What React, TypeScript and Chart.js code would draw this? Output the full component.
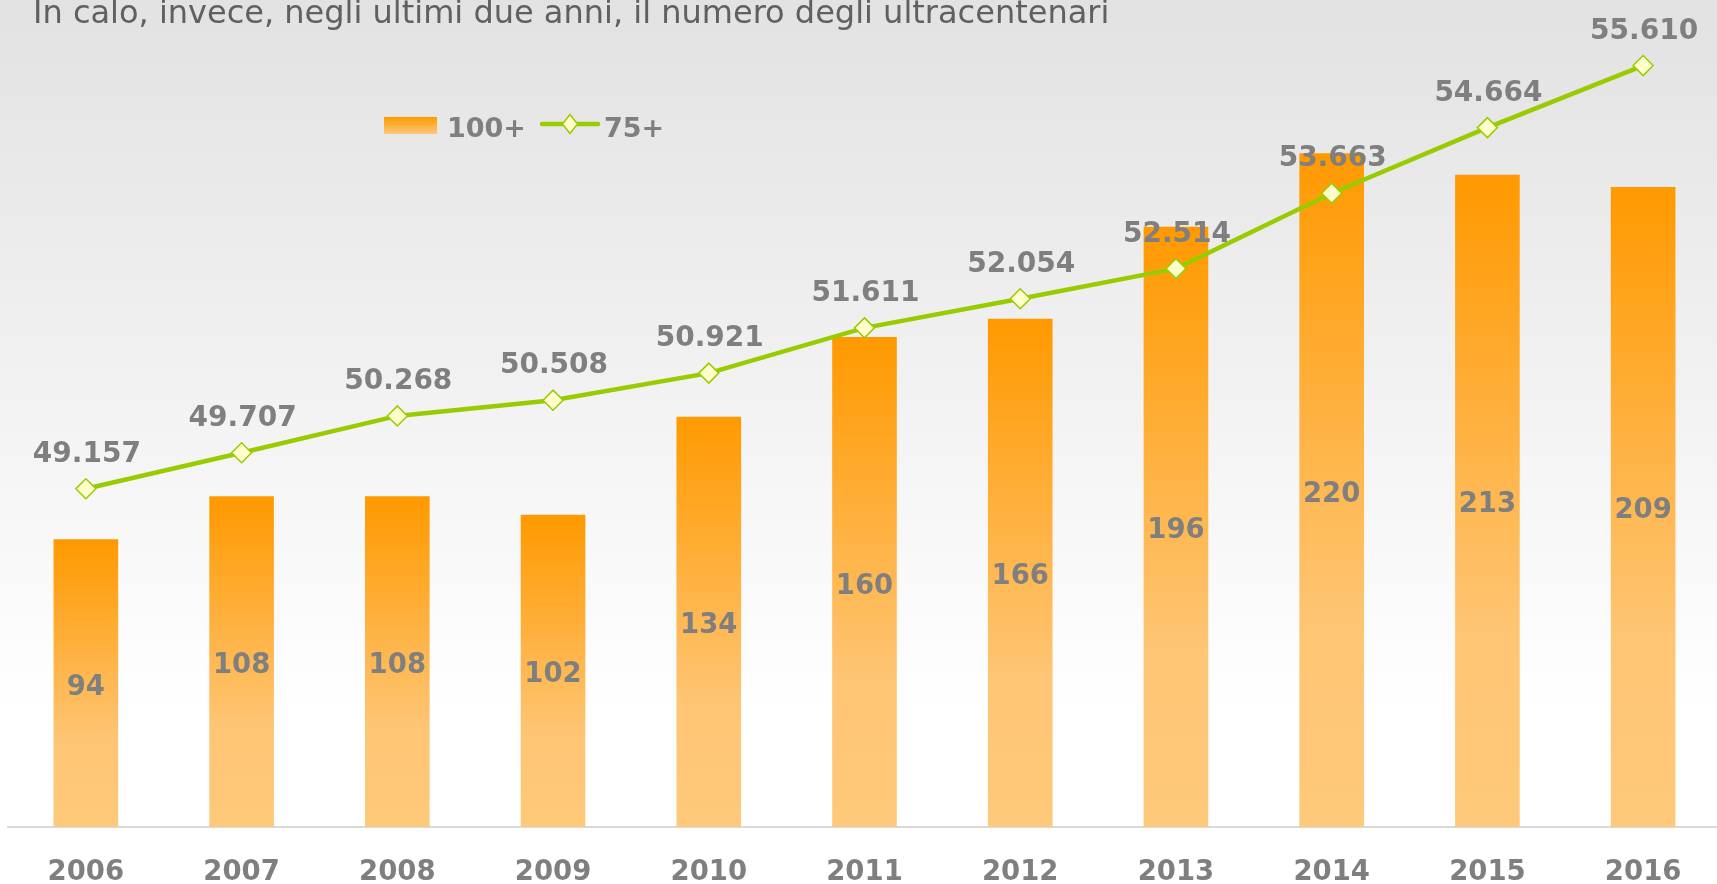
import React, { useEffect, useRef } from "react";
import { Chart, registerables } from "chart.js";

Chart.register(...registerables);

const TITLE = "In calo, invece, negli ultimi due anni, il numero degli ultracentenari";
const YEARS = ["2006", "2007", "2008", "2009", "2010", "2011", "2012", "2013", "2014", "2015", "2016"];
const SERIES_NAMES = ["100+", "75+"];
const CENTENARI = [94, 108, 108, 102, 134, 160, 166, 196, 220, 213, 209];
const OVER75 = [49157, 49707, 50268, 50508, 50921, 51611, 52054, 52514, 53663, 54664, 55610];

const GRAY = "#7f7f7f";
const GREEN = "#99cc00";
const FONT = "'DejaVu Sans', Verdana, sans-serif";

function fmt(n: number): string {
  return String(n).replace(/\B(?=(\d{3})+(?!\d))/g, ".");
}

const labelPlugin = {
  id: "valueLabels",
  afterDatasetsDraw(chart: any) {
    const ctx = chart.ctx;
    ctx.save();
    ctx.fillStyle = GRAY;
    ctx.textAlign = "center";
    ctx.textBaseline = "alphabetic";
    const barMeta = chart.getDatasetMeta(0);
    ctx.font = `bold 27.5px ${FONT}`;
    barMeta.data.forEach((el: any, i: number) => {
      const p = el.getProps(["x", "y", "base"], true);
      ctx.fillText(String(CENTENARI[i]), p.x, (p.y + p.base) / 2 + 11.5);
    });
    const lineMeta = chart.getDatasetMeta(1);
    ctx.font = `bold 28px ${FONT}`;
    lineMeta.data.forEach((el: any, i: number) => {
      ctx.fillText(fmt(OVER75[i]), el.x + 1, el.y - 27);
    });
    ctx.restore();
  },
};

export default function App() {
  const ref = useRef<HTMLCanvasElement | null>(null);

  useEffect(() => {
    if (!ref.current) return;
    const chart = new Chart(ref.current, {
      type: "bar",
      data: {
        labels: YEARS,
        datasets: [
          {
            type: "bar",
            label: SERIES_NAMES[0],
            data: CENTENARI,
            yAxisID: "y",
            order: 2,
            barPercentage: 0.415,
            categoryPercentage: 1,
            backgroundColor: (c: any) => {
              const chart = c.chart;
              if (!chart.chartArea || c.type !== "data") return "#ff9900";
              const ys = chart.scales.y;
              const top = ys.getPixelForValue(c.raw);
              const bottom = ys.getPixelForValue(0);
              const g = chart.ctx.createLinearGradient(0, top, 0, bottom);
              g.addColorStop(0, "#ff9900");
              g.addColorStop(0.7, "#fec574");
              g.addColorStop(1, "#fec97a");
              return g;
            },
            borderWidth: 0,
          },
          {
            type: "line",
            label: SERIES_NAMES[1],
            data: OVER75,
            yAxisID: "y2",
            order: 1,
            borderColor: GREEN,
            borderWidth: 4.5,
            tension: 0,
            pointStyle: "rectRot",
            pointRadius: 10,
            pointBackgroundColor: "#ffffcc",
            pointBorderColor: GREEN,
            pointBorderWidth: 1.5,
            clip: false,
          } as any,
        ],
      },
      options: {
        responsive: false,
        animation: false,
        devicePixelRatio: 1,
        layout: { autoPadding: false, padding: { left: 8, right: 9, top: 40, bottom: 0 } },
        plugins: {
          legend: { display: false },
          tooltip: { enabled: false },
          title: { display: false },
        },
        scales: {
          x: {
            offset: true,
            grid: { display: false, drawTicks: false },
            border: { display: true, color: "#d9d9d9", width: 2 },
            ticks: {
              color: GRAY,
              padding: 29.5,
              font: { family: FONT, size: 27.5, weight: "bold" },
            },
            afterFit: (s: any) => {
              s.height = 73;
            },
          },
          y: { display: false, min: 0, max: 257 },
          y2: { display: false, min: 44000, max: 56000, position: "right" },
        },
      },
      plugins: [labelPlugin],
    } as any);
    return () => chart.destroy();
  }, []);

  return (
    <div
      style={{
        position: "fixed",
        left: 0,
        top: 0,
        width: 1717,
        height: 884,
        overflow: "hidden",
        background: "linear-gradient(to bottom, #e2e2e2 0px, #ffffff 710px, #ffffff 884px)",
      }}
    >
      <canvas
        ref={ref}
        width={1730}
        height={900}
        style={{ position: "absolute", left: 0, top: 0, width: 1730, height: 900 }}
      />
      <div
        style={{
          position: "absolute",
          left: 33,
          top: -4,
          fontFamily: "'DejaVu Sans', sans-serif",
          fontSize: 32,
          lineHeight: "32px",
          color: "#606060",
          whiteSpace: "nowrap",
        }}
      >
        {TITLE}
      </div>
      <div
        style={{
          position: "absolute",
          left: 384,
          top: 117,
          width: 53,
          height: 17,
          background: "linear-gradient(to bottom, #ff9900, #fec97a)",
        }}
      />
      <div
        style={{
          position: "absolute",
          left: 447,
          top: 114,
          fontFamily: FONT,
          fontWeight: "bold",
          fontSize: 27,
          lineHeight: "27px",
          color: GRAY,
          whiteSpace: "nowrap",
        }}
      >
        {SERIES_NAMES[0]}
      </div>
      <svg
        width={62}
        height={24}
        style={{ position: "absolute", left: 539, top: 112 }}
      >
        <line x1={3} y1={12} x2={59} y2={12} stroke={GREEN} strokeWidth={4.5} strokeLinecap="round" />
        <path d="M31 2.5 L38.5 12 L31 21.5 L23.5 12 Z" fill="#ffffcc" stroke={GREEN} strokeWidth={1.5} />
      </svg>
      <div
        style={{
          position: "absolute",
          left: 604,
          top: 114,
          fontFamily: FONT,
          fontWeight: "bold",
          fontSize: 27,
          lineHeight: "27px",
          color: GRAY,
          whiteSpace: "nowrap",
        }}
      >
        {SERIES_NAMES[1]}
      </div>
    </div>
  );
}
